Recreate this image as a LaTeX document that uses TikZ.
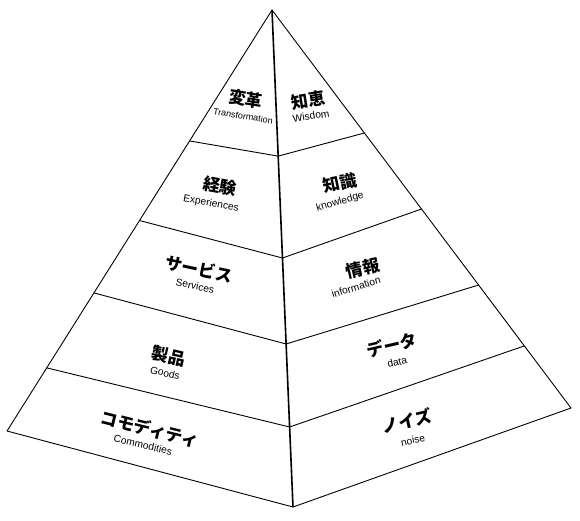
\documentclass[tikz,border=0pt]{standalone}
\usepackage{fontspec}
\setmainfont{Liberation Sans}
\newfontfamily\cjk{Noto Sans CJK JP}
\usetikzlibrary{calc}
\begin{document}
\begin{tikzpicture}[x=1pt,y=-1pt,
  edge/.style={line width=0.9pt,line join=round},
  ridge/.style={line width=1.6pt},
  jp/.style={font=\cjk\bfseries\fontsize{17}{17}\selectfont,inner sep=0pt},
  en/.style={font=\fontsize{10.2}{10.2}\selectfont,inner sep=0pt}]
\useasboundingbox (0,0) rectangle (580,520);
\coordinate (A) at (272,10);
\coordinate (L) at (7,431);
\coordinate (R) at (571,408);
\coordinate (F) at (293,507);
% band points
\coordinate (l1) at ($(A)!0.311!(L)$);
\coordinate (l2) at ($(A)!0.5!(L)$);
\coordinate (l3) at ($(A)!0.672!(L)$);
\coordinate (l4) at ($(A)!0.85!(L)$);
\coordinate (m1) at ($(A)!0.294!(F)$);
\coordinate (m2) at ($(A)!0.499!(F)$);
\coordinate (m3) at ($(A)!0.672!(F)$);
\coordinate (m4) at ($(A)!0.839!(F)$);
\coordinate (r1) at ($(A)!0.309!(R)$);
\coordinate (r2) at ($(A)!0.5!(R)$);
\coordinate (r3) at ($(A)!0.691!(R)$);
\coordinate (r4) at ($(A)!0.844!(R)$);
% outline
\draw[edge] (L) -- (A) -- (R) -- (F) -- cycle;
\draw[edge] (l1) -- (m1) -- (r1);
\draw[edge] (l2) -- (m2) -- (r2);
\draw[edge] (l3) -- (m3) -- (r3);
\draw[edge] (l4) -- (m4) -- (r4);
\draw[ridge] (A) -- (F);
% left face labels
\node[jp,rotate=-9] (t1) at (246,99) {変革};
\node[en,rotate=-9,font=\fontsize{9}{9}\selectfont] (t1e) at (243,116) {Transformation};
\node[jp,rotate=-10] (t2) at (220,186) {経験};
\node[en,rotate=-10] (t2e) at (211,204) {Experiences};
\node[jp,rotate=-12] (t3) at (199,269) {サービス};
\node[en,rotate=-12] (t3e) at (195,286) {Services};
\node[jp,rotate=-13] (t4) at (169,356) {製品};
\node[en,rotate=-13] (t4e) at (165,373) {Goods};
\node[jp,rotate=-14] (t5) at (150,429) {コモディティ};
\node[en,rotate=-13] (t5e) at (143,445) {Commodities};
% right face labels
\node[jp,rotate=9] (u1) at (308,100) {知恵};
\node[en,rotate=9] (u1e) at (311,116) {Wisdom};
\node[jp,rotate=12] (u2) at (340,183) {知識};
\node[en,rotate=16] (u2e) at (340,202) {knowledge};
\node[jp,rotate=13] (u3) at (363,268) {情報};
\node[en,rotate=17] (u3e) at (356,287) {information};
\node[jp,rotate=13] (u4) at (392,345) {データ};
\node[en,rotate=14] (u4e) at (397,362) {data};
\node[jp,rotate=13] (u5) at (407,421) {ノイズ};
\node[en,rotate=13] (u5e) at (413,440) {noise};
\end{tikzpicture}
\end{document}
